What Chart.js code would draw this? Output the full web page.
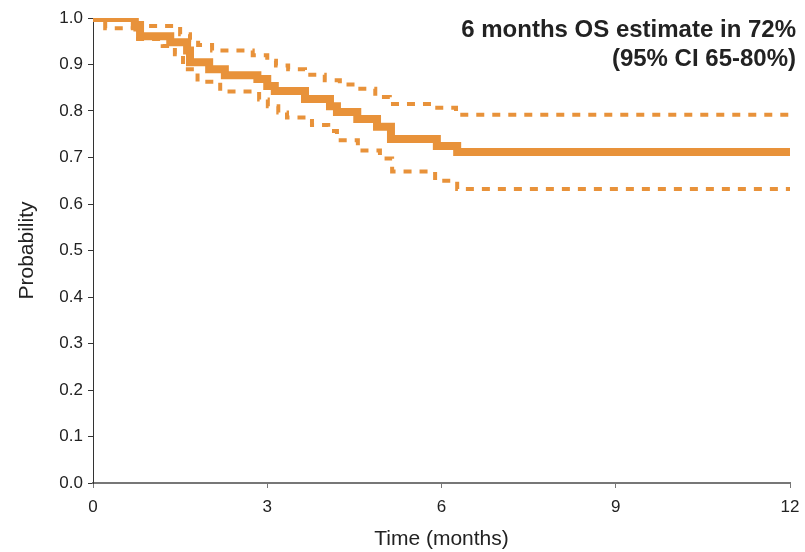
<!DOCTYPE html>
<html>
<head>
<meta charset="utf-8">
<script src="https://cdn.jsdelivr.net/npm/chart.js@4/dist/chart.umd.min.js"></script>
<style>
  html, body { margin: 0; padding: 0; background: #fff; }
</style>
</head>
<body>
<canvas id="c" width="805" height="552"></canvas>
<script>
// Kaplan-Meier estimate (months, survival probability)
const osT = [0, 0.72, 0.81, 1.33, 1.62, 1.67, 2.0, 2.27, 2.83, 3.0, 3.13, 3.65, 4.08, 4.2, 4.55, 4.89, 5.13, 5.92, 6.27, 12];
const osP = [1, 0.985, 0.961, 0.948, 0.93, 0.905, 0.89, 0.877, 0.869, 0.854, 0.843, 0.826, 0.81, 0.798, 0.783, 0.766, 0.74, 0.725, 0.712, 0.712];

// upper 95% CI
const upT = [0, 0.76, 1.5, 1.67, 1.81, 2.05, 2.75, 3.0, 3.15, 3.36, 3.65, 3.99, 4.25, 4.56, 4.86, 5.11, 5.89, 6.25, 12];
const upP = [1, 0.983, 0.965, 0.953, 0.942, 0.93, 0.92, 0.908, 0.898, 0.89, 0.878, 0.866, 0.857, 0.848, 0.83, 0.815, 0.807, 0.792, 0.792];

// lower 95% CI
const loT = [0, 0.21, 0.73, 1.2, 1.41, 1.55, 1.8, 2.19, 2.86, 3.01, 3.19, 3.34, 3.77, 4.05, 4.2, 4.56, 4.94, 5.15, 5.89, 6.27, 12];
const loP = [1, 0.978, 0.955, 0.94, 0.922, 0.89, 0.863, 0.842, 0.825, 0.81, 0.797, 0.786, 0.77, 0.757, 0.737, 0.715, 0.698, 0.67, 0.65, 0.632, 0.632];

const xTicks = [0, 3, 6, 9, 12];
const noteLines = ["6 months OS estimate in 72%", "(95% CI 65-80%)"];

const orange = '#E8923A';
const fnt = '"Liberation Sans", Arial, sans-serif';

function pts(t, p) {
    return t.map((v, i) => ({ x: v, y: p[i] }));
}

const note = {
    id: 'note',
    afterDraw(ch) {
        const g = ch.ctx;
        g.save();
        g.font = 'bold 24px ' + fnt;
        g.fillStyle = '#222';
        g.textAlign = 'right';
        g.textBaseline = 'alphabetic';
        g.fillText(noteLines[0], 796, 37);
        g.fillText(noteLines[1], 796, 66);
        g.restore();
    }
};

Chart.defaults.font.family = fnt;
Chart.defaults.color = '#222';

new Chart(document.getElementById('c'), {
    type: 'line',
    data: {
        datasets: [
            { data: pts(osT, osP), borderColor: orange, borderWidth: 8, stepped: 'before', pointRadius: 0, fill: false },
            { data: pts(upT, upP), borderColor: orange, borderWidth: 4, borderDash: [8, 8], stepped: 'before', pointRadius: 0, fill: false },
            { data: pts(loT, loP), borderColor: orange, borderWidth: 4, borderDash: [8, 8], stepped: 'before', pointRadius: 0, fill: false }
        ]
    },
    options: {
        responsive: false,
        animation: false,
        layout: { padding: { top: 18, right: 15, left: 0, bottom: 0 } },
        plugins: { legend: { display: false }, tooltip: { enabled: false } },
        scales: {
            x: {
                type: 'linear',
                min: 0,
                max: 12,
                afterBuildTicks: s => { s.ticks = xTicks.map(v => ({ value: v })); },
                afterFit: s => { s.height = 69; s.paddingLeft = 0; s.paddingRight = 0; },
                ticks: { font: { size: 17 }, padding: 9, maxRotation: 0 },
                grid: { drawOnChartArea: false, drawTicks: true, tickLength: 5, color: '#777', lineWidth: 1 },
                border: { color: '#777', width: 2 },
                title: { display: true, text: 'Time (months)', font: { size: 21 }, padding: { top: 0, bottom: 0 } }
            },
            y: {
                min: 0,
                max: 1,
                afterFit: s => { s.width = 93; },
                ticks: { stepSize: 0.1, font: { size: 17 }, padding: 5, callback: v => v.toFixed(1) },
                grid: { drawOnChartArea: false, drawTicks: true, tickLength: 5, color: '#333', lineWidth: 1 },
                border: { color: '#333', width: 1 },
                title: { display: true, text: 'Probability', font: { size: 21 }, padding: { top: 15, bottom: 0 } }
            }
        }
    },
    plugins: [note]
});
</script>
</body>
</html>
